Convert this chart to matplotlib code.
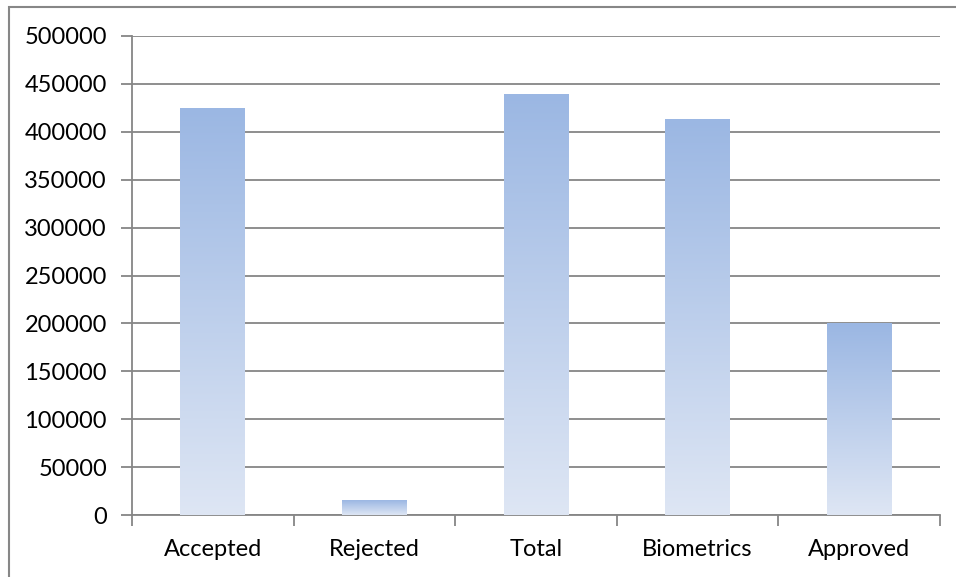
#!/usr/bin/env python3
"""Bar chart of application counts with Excel-style gradient bars."""

import matplotlib
matplotlib.use("Agg")
import matplotlib.pyplot as plt
import matplotlib.ticker as ticker
import numpy as np
from matplotlib.colors import LinearSegmentedColormap
from matplotlib.patches import Rectangle

categories = ["Accepted", "Rejected", "Total", "Biometrics", "Approved"]
counts = [424000, 15600, 438500, 412500, 200000]
y_ticks = [0, 50000, 100000, 150000, 200000, 250000, 300000, 350000, 400000, 450000, 500000]

GRID = "#868686"
TOP = "#9BB7E3"
BOTTOM = "#DEE6F4"

plt.rcParams["font.family"] = ["Lato", "DejaVu Sans"]

fig = plt.figure(figsize=(9.56, 5.77), dpi=100)
ax = fig.add_axes([132 / 956, 62 / 577, 808 / 956, 479 / 577])

x = np.arange(len(categories))
bars = ax.bar(x, counts, width=0.4, color="none", zorder=3)

# vertical gradient per bar, light at the bottom
cmap = LinearSegmentedColormap.from_list("grad", [BOTTOM, TOP])
grad = np.linspace(0, 1, 256).reshape(-1, 1)
for b in bars:
    x0, y0 = b.get_x(), b.get_y()
    ax.imshow(grad, cmap=cmap, origin="lower", aspect="auto", zorder=3,
              extent=[x0, x0 + b.get_width(), y0, y0 + b.get_height()])

ax.set_xlim(-0.5, len(categories) - 0.5)
ax.set_ylim(0, 500000)
ax.set_yticks(y_ticks)
ax.yaxis.set_major_formatter(ticker.FormatStrFormatter("%d"))
ax.set_xticks(x)
ax.set_xticklabels(categories)
ax.xaxis.set_minor_locator(ticker.FixedLocator(np.arange(len(categories) + 1) - 0.5))

ax.grid(axis="y", color=GRID, linewidth=1.3, zorder=0)
ax.set_axisbelow(True)
for side in ("top", "right"):
    ax.spines[side].set_visible(False)
for side in ("left", "bottom"):
    ax.spines[side].set_color(GRID)
    ax.spines[side].set_linewidth(1.3)

ax.tick_params(axis="y", which="major", length=8, width=1.3, color=GRID,
               labelsize=17, pad=10)
ax.tick_params(axis="x", which="major", length=0, labelsize=17, pad=17)
ax.tick_params(axis="x", which="minor", length=8, width=1.3, color=GRID)

# outer chart border (right and bottom sides are cropped in the original)
fig.patches.append(Rectangle((9 / 956, -0.5), 2, 0.5 + 1 - 7 / 577,
                             transform=fig.transFigure, fill=False,
                             edgecolor="#878787", linewidth=1.5))

fig.savefig("out.png", dpi=100)
